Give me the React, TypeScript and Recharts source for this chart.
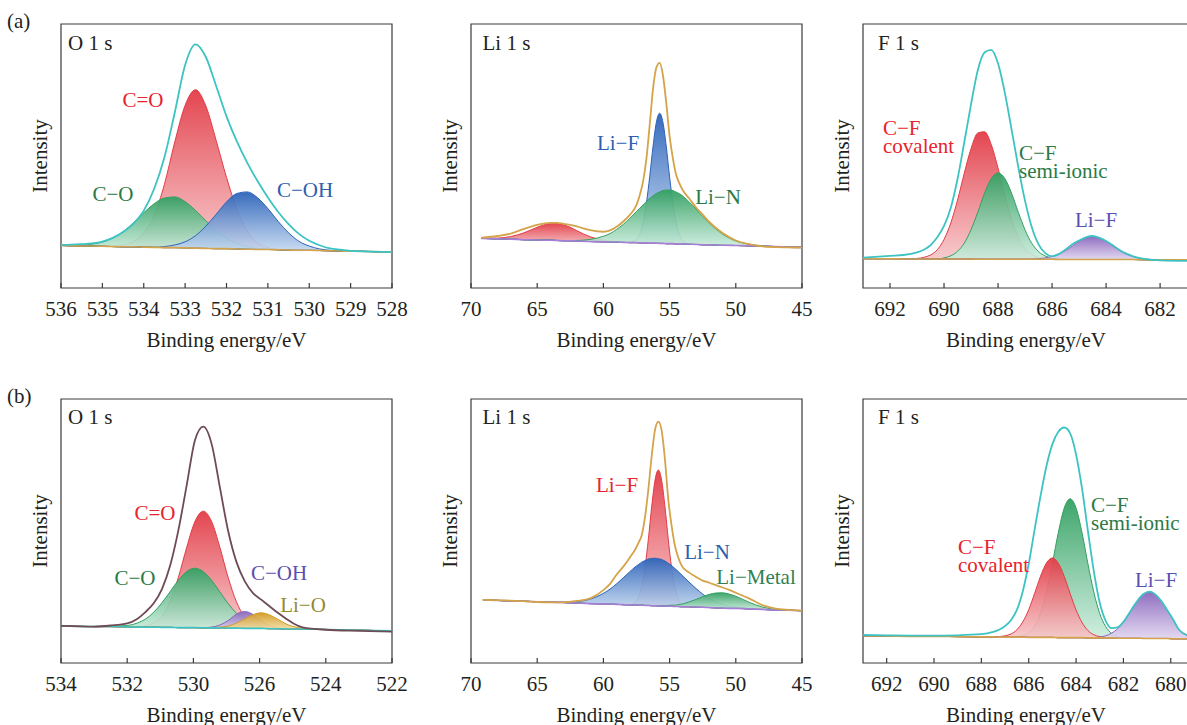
import React from 'react';
import { ComposedChart, Area, Line, XAxis, YAxis, ReferenceArea } from 'recharts';

// ---------- (a) O 1 s ----------
const a1Energy = [536, 535.75, 535.5, 535.25, 535, 534.75, 534.5, 534.25, 534, 533.75, 533.5, 533.25, 533, 532.75, 532.5, 532.25, 532, 531.75, 531.5, 531.25, 531, 530.75, 530.5, 530.25, 530, 529.75, 529.5, 529.25, 529, 528.75, 528.5, 528.25, 528];
const a1Envelope = [16.3, 16.4, 16.6, 16.9, 17.6, 19.0, 21.2, 24.4, 29.3, 37.5, 49.5, 66.5, 84.5, 92.3, 87.5, 76.5, 65.0, 55.5, 47.5, 40.5, 34.3, 28.8, 24.2, 20.5, 17.9, 16.2, 15.0, 14.5, 14.1, 13.9, 13.8, 13.7, 13.6];
const a1Background = [16.1, 16.0, 15.9, 15.9, 15.8, 15.7, 15.6, 15.6, 15.5, 15.4, 15.3, 15.3, 15.2, 15.1, 15.0, 14.9, 14.9, 14.8, 14.7, 14.6, 14.6, 14.5, 14.4, 14.3, 14.3, 14.2, 14.1, 14.0, 13.9, 13.9, 13.8, 13.7, 13.6];
const a1CdoubleO = [0, 0, 0, 0, 0, 0, 0.6, 2, 5.5, 12, 24, 40, 54, 60, 54, 41, 27, 15, 7, 2.5, 0.8, 0, 0, 0, 0, 0, 0, 0, 0, 0, 0, 0, 0];
const a1CO = [0, 0.1, 0.3, 0.7, 1.6, 3.2, 5.7, 9.1, 13.0, 16.5, 18.8, 19.2, 17.5, 14.3, 10.5, 6.8, 4.0, 2.1, 1.0, 0.4, 0.2, 0, 0, 0, 0, 0, 0, 0, 0, 0, 0, 0, 0];
const a1COH = [0, 0, 0, 0, 0, 0, 0, 0, 0, 0, 0.4, 1.0, 2.3, 4.7, 8.4, 13.0, 17.7, 21.0, 21.7, 19.6, 15.5, 10.7, 6.5, 3.4, 1.6, 0.6, 0.2, 0, 0, 0, 0, 0, 0];

// ---------- (a) Li 1 s ----------
const a2Energy = [69.2, 68, 67, 66, 65, 64.5, 64, 63.5, 63, 62.5, 62, 61, 60, 59.5, 59, 58.5, 58, 57.5, 57.25, 57, 56.75, 56.5, 56.25, 56, 55.75, 55.5, 55.25, 55, 54.75, 54.5, 54.25, 54, 53.5, 53, 52.5, 52, 51, 50, 49, 48, 47, 46, 45];
const a2Envelope = [19.1, 19.7, 20.6, 22.4, 23.9, 24.4, 24.7, 24.7, 24.3, 23.9, 23.3, 21.9, 21.3, 21.8, 23.2, 25.2, 27.7, 31.5, 35.2, 40.5, 49.0, 62.0, 75.5, 83.5, 85.3, 80.5, 70.0, 57.5, 49.0, 42.8, 39.5, 37.0, 33.8, 30.5, 27.8, 25.0, 20.8, 18.0, 16.6, 15.8, 15.5, 15.4, 15.3];
const a2Background = [18.8, 18.6, 18.5, 18.3, 18.2, 18.1, 18.1, 18.0, 17.9, 17.9, 17.8, 17.6, 17.5, 17.4, 17.4, 17.3, 17.2, 17.2, 17.1, 17.1, 17.1, 17.0, 17.0, 17.0, 16.9, 16.9, 16.8, 16.8, 16.8, 16.7, 16.7, 16.7, 16.6, 16.5, 16.4, 16.4, 16.2, 16.1, 16.0, 15.8, 15.7, 15.5, 15.4];
const a2Satellite = [0, 0.3, 1.0, 2.6, 4.8, 5.8, 6.4, 6.5, 6.0, 5.1, 3.9, 1.8, 0.6, 0.3, 0.1, 0, 0, 0, 0, 0, 0, 0, 0, 0, 0, 0, 0, 0, 0, 0, 0, 0, 0, 0, 0, 0, 0, 0, 0, 0, 0, 0, 0];
const a2LiF = [0, 0, 0, 0, 0, 0, 0, 0, 0, 0, 0, 0, 0, 0, 0, 0, 0.3, 1.3, 3.4, 7.8, 15.1, 25.3, 36.7, 45.8, 49.3, 45.8, 36.7, 25.3, 15.1, 7.8, 3.4, 1.3, 0.1, 0, 0, 0, 0, 0, 0, 0, 0, 0, 0];
const a2LiN = [0, 0, 0, 0, 0, 0, 0, 0, 0, 0, 0.2, 0.8, 2.1, 3.2, 4.8, 6.8, 9.2, 11.8, 13.1, 14.4, 15.7, 16.9, 17.9, 18.8, 19.5, 20.0, 20.3, 20.3, 20.1, 19.6, 19.0, 18.1, 15.9, 13.4, 10.7, 8.2, 4.2, 1.7, 0.6, 0.2, 0, 0, 0];

// ---------- (a) F 1 s ----------
const a3Energy = [693, 692, 691.5, 691, 690.75, 690.5, 690.25, 690, 689.75, 689.5, 689.25, 689, 688.75, 688.5, 688.25, 688, 687.75, 687.5, 687.25, 687, 686.75, 686.5, 686.25, 686, 685.75, 685.5, 685.25, 685, 684.75, 684.5, 684.25, 684, 683.75, 683.5, 683.25, 683, 682.5, 682, 680.9];
const a3Envelope = [11.5, 12.2, 12.5, 13.5, 14.5, 16.2, 19.2, 23.5, 30.4, 41.3, 55.2, 69.6, 82.5, 89.2, 90.2, 85.0, 74.0, 60.1, 45.8, 33.0, 23.0, 16.5, 13.2, 12.0, 12.9, 14.6, 16.6, 18.0, 19.2, 19.7, 19.0, 17.8, 16.2, 14.4, 13.0, 12.0, 10.9, 10.5, 10.3];
const a3Background = [11.1, 11.1, 11.0, 11.0, 11.0, 11.0, 11.0, 11.0, 11.0, 11.0, 11.0, 11.0, 10.9, 10.9, 10.9, 10.9, 10.9, 10.9, 10.9, 10.9, 10.9, 10.9, 10.9, 10.9, 10.8, 10.8, 10.8, 10.8, 10.8, 10.8, 10.8, 10.8, 10.8, 10.8, 10.8, 10.8, 10.7, 10.7, 10.7];
const a3CFcovalent = [0, 0, 0, 0.2, 0.6, 1.5, 3.5, 7.4, 13.6, 22.3, 32.5, 41.8, 47.8, 48.3, 43.4, 34.5, 24.3, 15.2, 8.4, 4.1, 1.8, 0.7, 0.2, 0, 0, 0, 0, 0, 0, 0, 0, 0, 0, 0, 0, 0, 0, 0, 0];
const a3CFsemiIonic = [0, 0, 0, 0, 0, 0, 0, 0.4, 1.2, 2.9, 6.0, 11.1, 17.8, 25.0, 30.6, 32.7, 30.6, 25.0, 17.8, 11.1, 6.0, 2.9, 1.2, 0.4, 0.1, 0, 0, 0, 0, 0, 0, 0, 0, 0, 0, 0, 0, 0, 0];
const a3LiF = [0, 0, 0, 0, 0, 0, 0, 0, 0, 0, 0, 0, 0, 0, 0, 0, 0, 0, 0, 0, 0, 0.2, 0.5, 1.1, 2.0, 3.4, 5.1, 6.9, 8.2, 8.7, 8.2, 6.9, 5.1, 3.4, 2.0, 1.1, 0.2, 0, 0];

// ---------- (b) O 1 s ----------
const b1Energy = [534, 533, 532.5, 532, 531.7, 531.45, 531.2, 530.95, 530.7, 530.45, 530.2, 529.95, 529.7, 529.45, 529.2, 528.95, 528.7, 528.45, 528.2, 527.95, 527.7, 527.45, 527.2, 526.95, 526.7, 526, 525, 524];
const b1Envelope = [14.1, 13.8, 14.2, 15.0, 16.7, 19.3, 22.6, 28.0, 37.0, 50.5, 67.5, 84.5, 89.5, 83.0, 66.5, 50.0, 38.3, 31.0, 26.5, 24.0, 21.5, 19.0, 16.8, 14.8, 13.5, 12.6, 12.2, 11.9];
const b1Background = [14.0, 13.8, 13.8, 13.7, 13.6, 13.6, 13.6, 13.5, 13.5, 13.4, 13.4, 13.4, 13.3, 13.3, 13.3, 13.2, 13.2, 13.1, 13.1, 13.1, 13.0, 13.0, 12.9, 12.9, 12.9, 12.7, 12.4, 12.2];
const b1CdoubleO = [0, 0, 0, 0, 0.1, 0.5, 1.6, 4.3, 10.0, 19.2, 30.5, 40.3, 44.2, 40.3, 30.5, 19.2, 10.0, 4.3, 1.6, 0.5, 0.1, 0, 0, 0, 0, 0, 0, 0];
const b1CO = [0, 0, 0.1, 0.5, 1.5, 3.0, 5.6, 9.3, 13.6, 18.0, 21.3, 22.5, 21.3, 18.0, 13.6, 9.3, 5.6, 3.0, 1.5, 0.6, 0.2, 0, 0, 0, 0, 0, 0, 0];
const b1COH = [0, 0, 0, 0, 0, 0, 0, 0, 0, 0, 0, 0, 0.1, 0.3, 1.1, 2.9, 5.3, 6.4, 5.3, 2.9, 1.1, 0.3, 0.1, 0, 0, 0, 0, 0];
const b1LiO = [0, 0, 0, 0, 0, 0, 0, 0, 0, 0, 0, 0, 0, 0.1, 0.3, 0.8, 1.9, 3.6, 5.2, 5.9, 5.2, 3.6, 1.9, 0.8, 0.3, 0, 0, 0];
const b1TickValues = [534, 532, 530, 528, 526, 524];
const b1TickLabels = ['534', '532', '530', '526', '524', '522'];

// ---------- (b) Li 1 s ----------
const b2Energy = [69.1, 68, 67, 66, 65, 64, 63, 62, 61, 60, 59.5, 59, 58.5, 58, 57.6, 57.35, 57.1, 56.85, 56.6, 56.35, 56.1, 55.85, 55.6, 55.35, 55.1, 54.85, 54.6, 54.35, 54.1, 53.6, 53, 52.5, 52, 51.5, 51, 50.5, 50, 49, 48, 47, 46, 45];
const b2Envelope = [23.9, 23.8, 23.6, 23.4, 23.1, 23.0, 23.0, 23.5, 24.5, 27.6, 30.0, 33.5, 36.5, 40.0, 43.0, 45.5, 48.5, 55.5, 66.0, 78.5, 88.3, 91.4, 88.0, 77.0, 62.0, 52.0, 44.5, 40.0, 37.0, 34.5, 32.6, 31.2, 30.4, 29.5, 28.6, 27.7, 26.6, 24.5, 21.9, 20.6, 20.1, 19.8];
const b2Background = [23.9, 23.7, 23.5, 23.4, 23.2, 23.0, 22.9, 22.7, 22.5, 22.4, 22.3, 22.2, 22.1, 22.0, 22.0, 21.9, 21.9, 21.8, 21.8, 21.7, 21.7, 21.6, 21.6, 21.6, 21.5, 21.5, 21.4, 21.4, 21.3, 21.3, 21.2, 21.1, 21.0, 20.9, 20.8, 20.7, 20.7, 20.5, 20.3, 20.1, 20.0, 19.8];
const b2LiF = [0, 0, 0, 0, 0, 0, 0, 0, 0, 0, 0, 0, 0, 0.2, 1.1, 3.0, 7.2, 14.6, 25.3, 37.6, 47.6, 51.5, 47.6, 37.6, 25.3, 14.6, 7.2, 3.0, 1.1, 0.1, 0, 0, 0, 0, 0, 0, 0, 0, 0, 0, 0, 0];
const b2LiN = [0, 0, 0, 0, 0, 0, 0.2, 0.6, 1.7, 4.0, 5.7, 7.8, 10.2, 12.6, 14.4, 15.4, 16.3, 17.0, 17.6, 17.9, 18.0, 17.9, 17.6, 17.0, 16.3, 15.4, 14.4, 13.3, 12.1, 9.7, 7.0, 5.0, 3.4, 2.2, 1.4, 0.8, 0.5, 0.1, 0, 0, 0, 0];
const b2LiMetal = [0, 0, 0, 0, 0, 0, 0, 0, 0, 0, 0, 0, 0, 0, 0, 0, 0, 0, 0, 0, 0, 0.1, 0.2, 0.2, 0.3, 0.4, 0.5, 0.7, 1.0, 1.7, 2.9, 4.0, 5.0, 5.6, 5.8, 5.4, 4.6, 2.5, 0.9, 0.2, 0, 0];

// ---------- (b) F 1 s ----------
const b3Energy = [693, 692, 691, 690, 689, 688, 687.5, 687.25, 687, 686.75, 686.5, 686.25, 686, 685.75, 685.5, 685.25, 685, 684.75, 684.5, 684.25, 684, 683.75, 683.5, 683.25, 683, 682.75, 682.5, 682.25, 682, 681.65, 681.4, 681.15, 680.9, 680.65, 680.4, 680.15, 679.9, 679.65, 679.2];
const b3Envelope = [10.6, 10.5, 10.4, 10.4, 10.5, 10.9, 11.8, 12.6, 14.0, 16.2, 20.1, 27.2, 37.6, 50.6, 63.3, 74.6, 82.9, 87.6, 89.2, 87.0, 79.0, 66.2, 50.0, 34.7, 22.8, 16.0, 13.2, 13.5, 15.6, 20.4, 23.7, 26.1, 27.0, 26.0, 23.5, 20.0, 16.5, 12.6, 10.2];
const b3Background = [10.3, 10.2, 10.1, 10.1, 10.0, 9.9, 9.9, 9.8, 9.8, 9.8, 9.8, 9.8, 9.7, 9.7, 9.7, 9.7, 9.7, 9.6, 9.6, 9.6, 9.6, 9.6, 9.5, 9.5, 9.5, 9.5, 9.5, 9.4, 9.4, 9.4, 9.4, 9.3, 9.3, 9.3, 9.3, 9.3, 9.2, 9.2, 9.2];
const b3CFcovalent = [0, 0, 0, 0, 0, 0, 0, 0.2, 0.5, 1.2, 2.8, 5.8, 10.5, 16.7, 23.2, 28.2, 30.1, 28.2, 23.2, 16.7, 10.5, 5.8, 2.8, 1.2, 0.5, 0.2, 0, 0, 0, 0, 0, 0, 0, 0, 0, 0, 0, 0, 0];
const b3CFsemiIonic = [0, 0, 0, 0, 0, 0, 0, 0, 0, 0, 0.2, 0.6, 1.7, 4.3, 9.2, 17.3, 28.1, 39.8, 49.1, 52.6, 49.1, 39.8, 28.1, 17.3, 9.2, 4.3, 1.7, 0.6, 0.2, 0, 0, 0, 0, 0, 0, 0, 0, 0, 0];
const b3LiF = [0, 0, 0, 0, 0, 0, 0, 0, 0, 0, 0, 0, 0, 0, 0, 0, 0, 0, 0, 0, 0, 0, 0, 0.1, 0.3, 0.8, 1.8, 3.5, 6.0, 10.7, 14.2, 16.7, 17.7, 16.7, 14.2, 10.7, 7.3, 3.4, 1.0];

// ---------- styling ----------
const SERIF = "'Liberation Serif', 'Times New Roman', Times, serif";
const INK = '#231f20';
const FRAME = '#3a3a3a';
const PLOT_H = 264;
const Y_W = 42;
const RIGHT_PAD = 26;
const CYAN = '#3dc3c3';
const TAN = '#d4a34a';
const LILAC = '#a77fd6';
const MAUVE = '#6e4b55';

const RED = { color: '#e23c47', light: '#f7c6c9' };
const GREEN = { color: '#33a062', light: '#cbeddd' };
const BLUE = { color: '#2c63b9', light: '#c6daf1' };
const PURPLE = { color: '#8966bd', light: '#e0d4ef' };
const GOLD = { color: '#d29a24', light: '#f4e2ad' };

type Peak = { key: string; heights: number[]; color: string; light: string };
type Panel = {
  id: string;
  left: number;
  top: number;
  width: number;
  domain: [number, number];
  ticks: number[];
  tickLabels?: string[];
  energy: number[];
  envelope: number[];
  envColor: string;
  background: number[];
  bgColor: string;
  peaks: Peak[];
};

const panels: Panel[] = [
  {
    id: 'a1', left: 61, top: 24, width: 331, domain: [528, 536],
    ticks: [536, 535, 534, 533, 532, 531, 530, 529, 528],
    energy: a1Energy, envelope: a1Envelope, envColor: CYAN, background: a1Background, bgColor: TAN,
    peaks: [
      { key: 'cdo', heights: a1CdoubleO, ...RED },
      { key: 'co', heights: a1CO, ...GREEN },
      { key: 'coh', heights: a1COH, ...BLUE },
    ],
  },
  {
    id: 'a2', left: 471, top: 24, width: 331, domain: [45, 70],
    ticks: [70, 65, 60, 55, 50, 45],
    energy: a2Energy, envelope: a2Envelope, envColor: TAN, background: a2Background, bgColor: LILAC,
    peaks: [
      { key: 'sat', heights: a2Satellite, ...RED },
      { key: 'lif', heights: a2LiF, ...BLUE },
      { key: 'lin', heights: a2LiN, ...GREEN },
    ],
  },
  {
    id: 'a3', left: 863, top: 24, width: 326, domain: [680.93, 693],
    ticks: [692, 690, 688, 686, 684, 682],
    energy: a3Energy, envelope: a3Envelope, envColor: CYAN, background: a3Background, bgColor: TAN,
    peaks: [
      { key: 'cov', heights: a3CFcovalent, ...RED },
      { key: 'semi', heights: a3CFsemiIonic, ...GREEN },
      { key: 'lif', heights: a3LiF, ...PURPLE },
    ],
  },
  {
    id: 'b1', left: 61, top: 399, width: 331, domain: [524, 534],
    ticks: b1TickValues, tickLabels: b1TickLabels,
    energy: b1Energy, envelope: b1Envelope, envColor: MAUVE, background: b1Background, bgColor: CYAN,
    peaks: [
      { key: 'cdo', heights: b1CdoubleO, ...RED },
      { key: 'co', heights: b1CO, ...GREEN },
      { key: 'coh', heights: b1COH, ...PURPLE },
      { key: 'lio', heights: b1LiO, ...GOLD },
    ],
  },
  {
    id: 'b2', left: 471, top: 399, width: 331, domain: [45, 70],
    ticks: [70, 65, 60, 55, 50, 45],
    energy: b2Energy, envelope: b2Envelope, envColor: TAN, background: b2Background, bgColor: LILAC,
    peaks: [
      { key: 'lif', heights: b2LiF, ...RED },
      { key: 'lin', heights: b2LiN, ...BLUE },
      { key: 'lim', heights: b2LiMetal, ...GREEN },
    ],
  },
  {
    id: 'b3', left: 863, top: 399, width: 326, domain: [679.23, 693],
    ticks: [692, 690, 688, 686, 684, 682, 680],
    energy: b3Energy, envelope: b3Envelope, envColor: CYAN, background: b3Background, bgColor: TAN,
    peaks: [
      { key: 'semi', heights: b3CFsemiIonic, ...GREEN },
      { key: 'cov', heights: b3CFcovalent, ...RED },
      { key: 'lif', heights: b3LiF, ...PURPLE },
    ],
  },
];

// peak and panel labels; two-line labels are one text block
type Note = { text: string; x: number; y: number; color: string; anchor: 'start' | 'middle' };
const notes: Note[] = [
  { text: '(a)', x: 7, y: 21, color: INK, anchor: 'start' },
  { text: '(b)', x: 7, y: 396, color: INK, anchor: 'start' },
  { text: 'O 1 s', x: 68, y: 42.5, color: INK, anchor: 'start' },
  { text: 'Li 1 s', x: 482.5, y: 42.5, color: INK, anchor: 'start' },
  { text: 'F 1 s', x: 878, y: 42.5, color: INK, anchor: 'start' },
  { text: 'O 1 s', x: 68, y: 416.5, color: INK, anchor: 'start' },
  { text: 'Li 1 s', x: 482.5, y: 416.5, color: INK, anchor: 'start' },
  { text: 'F 1 s', x: 878, y: 416.5, color: INK, anchor: 'start' },
  { text: 'C=O', x: 143, y: 100, color: '#e8232d', anchor: 'middle' },
  { text: 'C−O', x: 113, y: 194, color: '#2b7a45', anchor: 'middle' },
  { text: 'C−OH', x: 305, y: 190, color: '#2e5fae', anchor: 'middle' },
  { text: 'Li−F', x: 618, y: 143, color: '#2e5fae', anchor: 'middle' },
  { text: 'Li−N', x: 718, y: 197, color: '#2b7a45', anchor: 'middle' },
  { text: 'C−F\ncovalent', x: 883, y: 137, color: '#e8232d', anchor: 'start' },
  { text: 'C−F\nsemi-ionic', x: 1019, y: 161.5, color: '#2b7a45', anchor: 'start' },
  { text: 'Li−F', x: 1096, y: 220, color: '#5a4fb0', anchor: 'middle' },
  { text: 'C=O', x: 155, y: 513, color: '#e8232d', anchor: 'middle' },
  { text: 'C−O', x: 135, y: 578, color: '#2b7a45', anchor: 'middle' },
  { text: 'C−OH', x: 279, y: 573, color: '#5a4fb0', anchor: 'middle' },
  { text: 'Li−O', x: 303, y: 605, color: '#958a2e', anchor: 'middle' },
  { text: 'Li−F', x: 617, y: 485, color: '#e8232d', anchor: 'middle' },
  { text: 'Li−N', x: 707, y: 552, color: '#2e5fae', anchor: 'middle' },
  { text: 'Li−Metal', x: 756, y: 577, color: '#2f8055', anchor: 'middle' },
  { text: 'C−F\nsemi-ionic', x: 1091, y: 514, color: '#2b7a45', anchor: 'start' },
  { text: 'C−F\ncovalent', x: 958, y: 555.5, color: '#e8232d', anchor: 'start' },
  { text: 'Li−F', x: 1156, y: 580, color: '#5a4fb0', anchor: 'middle' },
];

const XpsPanel = ({ p }: { p: Panel }) => {
  const rows = p.energy.map((e, i) => {
    const row: Record<string, any> = { e, env: p.envelope[i], base: p.background[i] };
    p.peaks.forEach((pk) => {
      row[pk.key] = [p.background[i], p.background[i] + pk.heights[i]];
    });
    return row;
  });
  const fmt = (v: number) => (p.tickLabels ? p.tickLabels[p.ticks.indexOf(v)] : String(v));
  const textStyle = { fill: INK, fontSize: 21, fontFamily: SERIF };

  return (
    <div style={{ position: 'absolute', left: p.left - Y_W, top: p.top - 10 }}>
      <ComposedChart
        width={Y_W + p.width + RIGHT_PAD}
        height={10 + PLOT_H + 70}
        data={rows}
        margin={{ top: 10, right: RIGHT_PAD, bottom: 0, left: 0 }}
      >
        <defs>
          {p.peaks.map((pk) => (
            <linearGradient key={pk.key} id={`${p.id}-${pk.key}`} x1="0" y1="0" x2="0" y2="1">
              <stop offset="0%" stopColor={pk.color} stopOpacity={0.95} />
              <stop offset="100%" stopColor={pk.light} stopOpacity={0.9} />
            </linearGradient>
          ))}
        </defs>
        <XAxis
          dataKey="e"
          type="number"
          domain={p.domain}
          reversed
          allowDataOverflow
          ticks={p.ticks}
          interval={0}
          tickFormatter={fmt}
          height={70}
          tickSize={-5}
          tickMargin={18.5}
          axisLine={false}
          tickLine={{ stroke: FRAME, strokeWidth: 1.2 }}
          tick={textStyle}
          label={{ value: 'Binding energy/eV', position: 'insideBottom', offset: 11, ...textStyle }}
        />
        <YAxis
          type="number"
          domain={[0, 100]}
          allowDataOverflow
          width={Y_W}
          tick={false}
          tickLine={false}
          axisLine={false}
          label={{ value: 'Intensity', angle: -90, position: 'center', ...textStyle }}
        />
        {p.peaks.map((pk) => (
          <Area
            key={pk.key}
            dataKey={pk.key}
            type="monotone"
            stroke={pk.color}
            strokeWidth={1}
            fill={`url(#${p.id}-${pk.key})`}
            fillOpacity={1}
            dot={false}
            activeDot={false}
            isAnimationActive={false}
          />
        ))}
        <Line dataKey="base" type="monotone" stroke={p.bgColor} strokeWidth={1.6} dot={false} activeDot={false} isAnimationActive={false} />
        <Line dataKey="env" type="monotone" stroke={p.envColor} strokeWidth={1.8} dot={false} activeDot={false} isAnimationActive={false} />
        <ReferenceArea x1={p.domain[0]} x2={p.domain[1]} y1={0} y2={100} fill="none" stroke={FRAME} strokeWidth={1.2} />
      </ComposedChart>
    </div>
  );
};

export default function App() {
  return (
    <div
      style={{
        position: 'absolute', left: 0, top: 0, width: 1187, height: 725,
        overflow: 'hidden', background: '#fff', fontFamily: SERIF,
      }}
    >
      {panels.map((p) => (
        <XpsPanel key={p.id} p={p} />
      ))}
      {notes.map((n, i) => (
        <div
          key={i}
          style={{
            position: 'absolute', left: n.x, top: n.y, color: n.color, fontSize: 21,
            lineHeight: n.text.includes('\n') ? '18px' : 1,
            whiteSpace: 'pre', transform: `translate(${n.anchor === 'middle' ? '-50%' : '0'}, -50%)`,
          }}
        >
          {n.text}
        </div>
      ))}
    </div>
  );
}
